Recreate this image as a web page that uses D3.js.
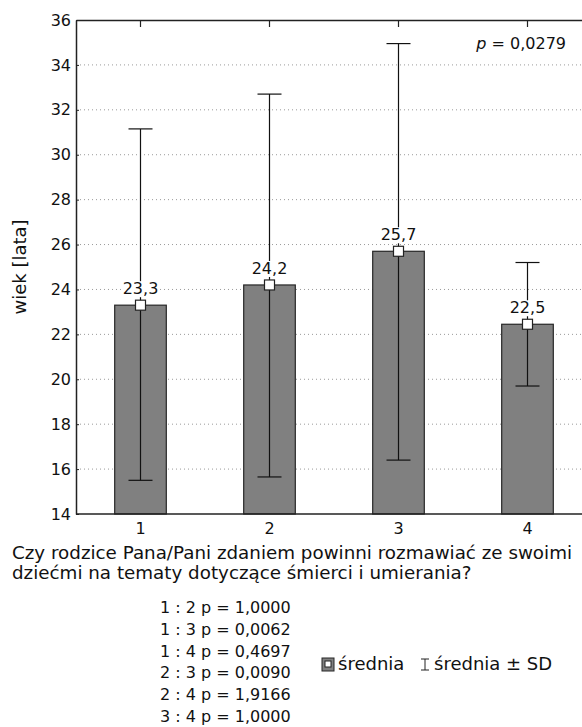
<!DOCTYPE html>
<html>
<head>
<meta charset="utf-8">
<script src="https://cdn.jsdelivr.net/npm/d3@7"></script>
<style>
  body { margin: 0; background: #fff; }
  svg { display: block; font-family: "DejaVu Sans", sans-serif; }
</style>
</head>
<body>
<div id="chart"></div>
<script>
// chart values
const categories = ["1", "2", "3", "4"];
const means = [23.3, 24.2, 25.7, 22.45];
const meanLabels = ["23,3", "24,2", "25,7", "22,5"];
const sdLow = [15.5, 15.65, 16.4, 19.7];
const sdHigh = [31.15, 32.7, 34.95, 25.2];
const yTicks = [14, 16, 18, 20, 22, 24, 26, 28, 30, 32, 34, 36];
const pairs = ["1 : 2", "1 : 3", "1 : 4", "2 : 3", "2 : 4", "3 : 4"];
const pairP = ["1,0000", "0,0062", "0,4697", "0,0090", "1,9166", "1,0000"];
const pTotal = "0,0279";
const yLabel = "wiek [lata]";
const titleLines = ["Czy rodzice Pana/Pani zdaniem powinni rozmawiać ze swoimi",
                    "dziećmi na tematy dotyczące śmierci i umierania?"];

const W = 582, H = 727;
const margin = {top: 20, left: 76, bottom: 514};
const plotRight = 592;

const svg = d3.select("#chart").append("svg")
  .attr("width", W)
  .attr("height", H);

const x = d3.scaleBand()
  .domain(categories)
  .range([margin.left, plotRight])
  .paddingInner(0.6)
  .paddingOuter(0.3);

const y = d3.scaleLinear()
  .domain([14, 36])
  .range([margin.bottom, margin.top]);

// dotted grid
svg.append("g")
  .selectAll("line")
  .data(yTicks.filter(d => d > 14 && d < 36))
  .enter().append("line")
  .attr("x1", margin.left).attr("x2", plotRight)
  .attr("y1", d => y(d)).attr("y2", d => y(d))
  .attr("stroke", "#9a9a9a")
  .attr("stroke-width", 1)
  .attr("stroke-dasharray", "1,3");

// bars
svg.append("g")
  .selectAll("rect")
  .data(categories)
  .enter().append("rect")
  .attr("x", d => x(d))
  .attr("width", x.bandwidth())
  .attr("y", (d, i) => y(means[i]))
  .attr("height", (d, i) => y(14) - y(means[i]))
  .attr("fill", "#808080")
  .attr("stroke", "#262626")
  .attr("stroke-width", 1.2);

// error bars
const cx = d => x(d) + x.bandwidth() / 2;
const eb = svg.append("g").attr("stroke", "#111").attr("stroke-width", 1.2);
categories.forEach((c, i) => {
  eb.append("line").attr("x1", cx(c)).attr("x2", cx(c))
    .attr("y1", y(sdLow[i])).attr("y2", y(sdHigh[i]));
  [sdLow[i], sdHigh[i]].forEach(v => {
    eb.append("line").attr("x1", cx(c) - 12).attr("x2", cx(c) + 12)
      .attr("y1", y(v)).attr("y2", y(v));
  });
});

// mean labels with white box
categories.forEach((c, i) => {
  const g = svg.append("g");
  const t = g.append("text")
    .attr("x", cx(c))
    .attr("y", y(means[i]) - 11)
    .attr("text-anchor", "middle")
    .attr("font-size", 16)
    .attr("fill", "#111")
    .text(meanLabels[i]);
  const bb = t.node().getBBox();
  g.insert("rect", "text")
    .attr("x", bb.x).attr("y", bb.y + 2)
    .attr("width", bb.width).attr("height", bb.height - 3)
    .attr("fill", "#fff");
});

// mean markers
svg.append("g")
  .selectAll("rect")
  .data(categories)
  .enter().append("rect")
  .attr("x", d => cx(d) - 5)
  .attr("y", (d, i) => y(means[i]) - 5)
  .attr("width", 10).attr("height", 10)
  .attr("fill", "#fff")
  .attr("stroke", "#222")
  .attr("stroke-width", 1.2);

// left axis
const yAxis = d3.axisLeft(y).tickValues(yTicks).tickSizeInner(-3).tickSizeOuter(0).tickPadding(5);
const yg = svg.append("g")
  .attr("transform", "translate(" + margin.left + ",0)")
  .call(yAxis);
yg.select(".domain").attr("stroke", "#222").attr("stroke-width", 1.5);
yg.selectAll(".tick line").attr("stroke", "#222");
yg.selectAll(".tick text")
  .attr("font-size", 16)
  .attr("font-family", "DejaVu Sans")
  .attr("fill", "#111");

// bottom axis line + labels
svg.append("line")
  .attr("x1", margin.left).attr("x2", plotRight)
  .attr("y1", margin.bottom).attr("y2", margin.bottom)
  .attr("stroke", "#222").attr("stroke-width", 1.5);
svg.append("g")
  .selectAll("text")
  .data(categories)
  .enter().append("text")
  .attr("x", d => cx(d))
  .attr("y", 534)
  .attr("text-anchor", "middle")
  .attr("font-size", 16)
  .attr("fill", "#111")
  .text(d => d);

// top border with inward ticks
const topAxis = d3.axisTop(x).tickSizeInner(-7).tickSizeOuter(0).tickFormat("");
const tg = svg.append("g")
  .attr("transform", "translate(0," + margin.top + ")")
  .call(topAxis);
tg.select(".domain").attr("stroke", "#222").attr("stroke-width", 1.5);
tg.selectAll(".tick line").attr("stroke", "#222").attr("stroke-width", 1.2);

// p value
const pt = svg.append("text")
  .attr("x", 566)
  .attr("y", 49)
  .attr("text-anchor", "end")
  .attr("font-size", 16)
  .attr("fill", "#111");
pt.append("tspan").attr("font-style", "italic").text("p");
pt.append("tspan").text(" = " + pTotal);

// y label
svg.append("text")
  .attr("transform", "translate(26," + ((margin.top + margin.bottom) / 2) + ") rotate(-90)")
  .attr("text-anchor", "middle")
  .attr("font-size", 18)
  .attr("fill", "#111")
  .text(yLabel);

// question text
svg.append("g")
  .selectAll("text")
  .data(titleLines)
  .enter().append("text")
  .attr("x", 12)
  .attr("y", (d, i) => 559 + i * 20)
  .attr("font-size", 18.3)
  .attr("fill", "#111")
  .text(d => d);

// pairwise p values
svg.append("g")
  .selectAll("text")
  .data(pairs)
  .enter().append("text")
  .attr("x", 160)
  .attr("y", (d, i) => 613 + i * 21.8)
  .attr("font-size", 16)
  .attr("fill", "#111")
  .text((d, i) => d + " p = " + pairP[i]);

// legend
const lg = svg.append("g").attr("transform", "translate(322,664)");
lg.append("rect").attr("x", 0).attr("y", -6).attr("width", 12).attr("height", 13)
  .attr("fill", "#808080").attr("stroke", "#262626").attr("stroke-width", 1);
lg.append("rect").attr("x", 3).attr("y", -3).attr("width", 6).attr("height", 6)
  .attr("fill", "#fff").attr("stroke", "#222").attr("stroke-width", 1);
lg.append("text").attr("x", 16).attr("y", 6).attr("font-size", 18).attr("fill", "#111")
  .text("średnia");
const ib = lg.append("g").attr("stroke", "#222").attr("stroke-width", 1);
ib.append("line").attr("x1", 103).attr("x2", 103).attr("y1", -5).attr("y2", 6);
ib.append("line").attr("x1", 99).attr("x2", 107).attr("y1", -5).attr("y2", -5);
ib.append("line").attr("x1", 99).attr("x2", 107).attr("y1", 6).attr("y2", 6);
lg.append("text").attr("x", 112).attr("y", 6).attr("font-size", 18).attr("fill", "#111")
  .text("średnia ± SD");
</script>
</body>
</html>
